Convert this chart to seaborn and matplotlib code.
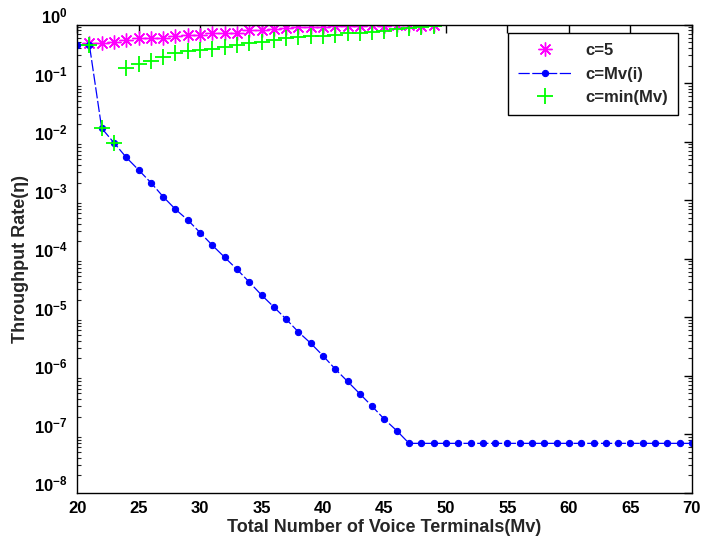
import numpy as np
import pandas as pd
import matplotlib
matplotlib.use("Agg")
import matplotlib.pyplot as plt
import matplotlib.transforms as mtransforms
import seaborn as sns
from matplotlib.ticker import FixedLocator, LogLocator, NullFormatter, FuncFormatter

# throughput rate vs total number of voice terminals
mv_c5 = list(range(21, 50))
c5 = [0.48, 0.48, 0.51, 0.55, 0.59, 0.59, 0.59, 0.64, 0.67, 0.68,
      0.73, 0.73, 0.73, 0.81, 0.81, 0.83, 0.87, 0.92, 0.92, 0.93,
      0.95, 0.95, 0.97, 0.98, 0.97, 1.0, 0.98, 0.97, 0.98]

mv_all = list(range(20, 71))
c_mvi = [0.45, 0.45, 0.017, 0.0096, 0.0054, 0.0033, 0.0020, 0.00115, 7e-4, 4.6e-4,
         2.8e-4, 1.7e-4, 1.06e-4, 6.6e-5, 4e-5, 2.4e-5, 1.5e-5, 9.3e-6, 5.6e-6, 3.6e-6,
         2.2e-6, 1.3e-6, 8e-7, 4.9e-7, 3.0e-7, 1.8e-7, 1.15e-7] + [7e-8] * 24

mv_min = list(range(21, 50))
c_min = [0.45, 0.017, 0.0096, 0.18, 0.21, 0.24, 0.28, 0.33, 0.35, 0.37,
         0.39, 0.42, 0.45, 0.49, 0.51, 0.55, 0.59, 0.62, 0.63, 0.65,
         0.68, 0.71, 0.73, 0.76, 0.79, 0.83, 0.88, 0.92, 0.95]

x_ticks = [20, 25, 30, 35, 40, 45, 50, 55, 60, 65, 70]
y_exps = list(range(-8, 1))

sns.set_style("white")
plt.rcParams['font.family'] = ['Liberation Sans', 'DejaVu Sans']
plt.rcParams['mathtext.fontset'] = 'custom'
plt.rcParams['mathtext.rm'] = 'Liberation Sans:bold'
plt.rcParams['mathtext.bf'] = 'Liberation Sans:bold'

fig = plt.figure(figsize=(7.01, 5.5), dpi=100)
ax = fig.add_axes([0.110, 0.104, 0.877, 0.851])

sns.lineplot(x=mv_c5, y=c5, ax=ax, color='#ff00ff', linestyle='', marker=(8, 2, 0),
             markersize=10, markeredgewidth=1.0, markeredgecolor='#ff00ff', label='c=5')
sns.lineplot(x=mv_all, y=c_mvi, ax=ax, color='#0000ff', linewidth=0.9, dashes=False,
             marker='o', markersize=4.5, markeredgecolor='#0000ff', label='c=Mv(i)')
ax.lines[-1].set_dashes((9, 2))
sns.lineplot(x=mv_min, y=c_min, ax=ax, color='#00ff00', linestyle='', marker='+',
             markersize=11, markeredgewidth=1.3, markeredgecolor='#00ff00', label='c=min(Mv)')

ax.set_yscale('log')
ax.set_xlim(20, 70)
ax.set_ylim(1e-8, 1)
ax.xaxis.set_major_locator(FixedLocator(x_ticks))
ax.yaxis.set_major_locator(FixedLocator([10.0 ** e for e in y_exps]))
ax.yaxis.set_major_formatter(FuncFormatter(lambda v, p: r'$\mathbf{10^{%d}}$' % round(np.log10(v))))
ax.yaxis.set_minor_locator(LogLocator(base=10, subs=np.arange(2, 10), numticks=20))
ax.yaxis.set_minor_formatter(NullFormatter())

for lab in ax.get_xticklabels():
    lab.set_fontweight('bold')
ax.tick_params(axis='both', which='major', direction='in', length=6, width=1,
               top=True, right=True, labelsize=12, colors='black')
ax.tick_params(axis='y', which='major', pad=7)
ax.tick_params(axis='x', which='major', pad=6)
ax.tick_params(axis='y', which='minor', direction='in', length=3, width=0.8, left=True, right=True)
for s in ax.spines.values():
    s.set_color('black')
    s.set_linewidth(1.0)

# MATLAB-style: y tick labels sit a little above their ticks
shift = mtransforms.ScaledTranslation(0, 7 / 72, fig.dpi_scale_trans)
for lab in ax.get_yticklabels():
    lab.set_transform(lab.get_transform() + shift)

ax.set_xlabel('Total Number of Voice Terminals(Mv)', fontsize=13, fontweight='bold', labelpad=2)
ax.set_ylabel('Throughput Rate(η)', fontsize=13, fontweight='bold', labelpad=3)

leg = ax.legend(loc='upper right', bbox_to_anchor=(0.977, 0.982), borderaxespad=0, fontsize=12,
                frameon=True, fancybox=False, edgecolor='black', framealpha=1,
                handlelength=3.2, borderpad=0.6, labelspacing=0.5)
leg.get_frame().set_linewidth(1.0)
for t in leg.get_texts():
    t.set_fontweight('bold')

fig.savefig('out.png', dpi=100)
